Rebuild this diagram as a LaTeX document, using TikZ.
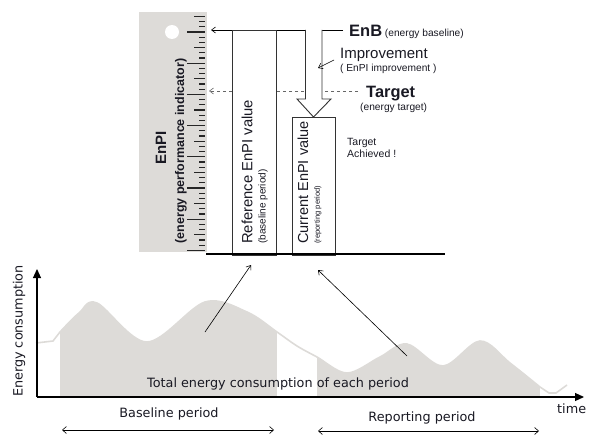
\documentclass[tikz,border=0pt]{standalone}
\usepackage{fontspec}
\setmainfont{Liberation Sans}
\newfontfamily\chartfont{DejaVu Sans}
\usetikzlibrary{positioning, arrows.meta}
\definecolor{panelgray}{RGB}{221,219,216}
\definecolor{inkcol}{RGB}{25,25,35}
\newcommand{\consumption}{(36,343) -- (53,341) -- (60,332) -- plot[smooth, tension=0.55] coordinates {(60,332) (79,313) (97,303) (147,342) (205,302) (247,312) (277,332) (297,346) (317,357) (347,373) (380,357) (407,344) (443,366) (480,341) (510,363) (540,387)} -- (549,393) -- (556,393) -- (567,385)}

\begin{document}
\begin{tikzpicture}[x=1pt, y=-1pt]
	\tikzstyle{box} = [draw=black!80, line width=0.9, fill=white, anchor=north west, inner sep=0]
	\tikzstyle{txt} = [inner sep=0, text=inkcol]
	\tikzstyle{vtxt} = [inner sep=0, text=inkcol, rotate=90, anchor=west]
	\tikzstyle{pointer} = [-{Straight Barb[length=4pt,width=6pt]}, line width=0.6]
	\tikzstyle{axis} = [-{Triangle[length=9pt,width=8pt]}, line width=1.1]
	\tikzstyle{period} = [{Straight Barb[length=4pt,width=7pt]}-{Straight Barb[length=4pt,width=7pt]}, line width=0.6]
	\tikzstyle{tick} = [line width=1.1, black!85]
	\tikzstyle{chart} = [txt, font=\chartfont\fontsize{12.8}{15}\selectfont]
	\useasboundingbox (0,0) rectangle (596,436);
	% ruler
	\fill [panelgray] (139,12) rectangle (207,252);
	\fill [white] (172,32) circle (7);
	\foreach \k in {-3,...,42}{
		\pgfmathtruncatemacro\r{mod(\k+60,6)}
		\ifnum\r=0 \def\len{18}\else\ifnum\r=3 \def\len{11}\else\def\len{6}\fi\fi
		\draw [tick] (205-\len,32+5.2*\k) -- (205,32+5.2*\k);
	}
	\node [vtxt, anchor=center, font=\bfseries\fontsize{15}{18}\selectfont] (enpi) at (161,148) {EnPI};
	\node [vtxt, anchor=center, font=\bfseries\fontsize{12.5}{15}\selectfont] (enpilong) at (181,151) {(energy performance indicator)};
	% levels
	\coordinate (tgtR) at (358,91);
	\coordinate (tgtL) at (209,91);
	\draw [pointer, dashed, black!60] (tgtR) -- (tgtL);
	\coordinate (enbR) at (343,30);
	\coordinate (enbL) at (211,30);
	\draw [pointer] (enbR) -- (enbL);
	\node [box, minimum width=44, minimum height=225] (refbox) at (232,30) {};
	\node [box, minimum width=43, minimum height=138] (curbox) at (292,117) {};
	\coordinate (floorL) at (206,254);
	\coordinate (floorR) at (445,254);
	\draw [line width=2] (floorL) -- (floorR);
	\node [vtxt, font=\fontsize{14.8}{17}\selectfont] (reftxt) at (247,244) {Reference EnPI value};
	\node [vtxt, font=\fontsize{10}{12}\selectfont] (refsub) at (263,244) {(baseline period)};
	\node [vtxt, font=\fontsize{14.5}{17}\selectfont] (curtxt) at (303,244) {Current EnPI value};
	\node [vtxt, font=\fontsize{7.6}{9}\selectfont] (cursub) at (318,244) {(reporting period)};
	% improvement arrow
	\draw [line width=0.9, black!80, fill=white] (305.5,30) -- (305.5,99) -- (297,99) -- (313.5,117) -- (331,99) -- (322,99) -- (322,30);
	\coordinate (impA) at (334,60);
	\coordinate (impB) at (318,68);
	\draw [pointer] (impA) -- (impB);
	\node [txt, anchor=base west] (enb) at (349,37) {{\bfseries\fontsize{16.5}{19}\selectfont EnB} {\fontsize{10.2}{12}\selectfont(energy baseline)}};
	\node [txt, anchor=base west, font=\fontsize{15}{18}\selectfont] (imp) at (340,58) {Improvement};
	\node [txt, anchor=base west, font=\fontsize{10.2}{12}\selectfont] (impsub) at (340,71) {( EnPI improvement )};
	\node [txt, anchor=base west, font=\bfseries\fontsize{16.4}{19}\selectfont] (tgt) at (366,97) {Target};
	\node [txt, anchor=base west, font=\fontsize{10.2}{12}\selectfont] (tgtsub) at (360,110) {(energy target)};
	\node [txt, anchor=north west, align=left, font=\fontsize{10.5}{12.5}\selectfont] (ach) at (347,138) {Target\\Achieved !};
	% consumption chart
	\draw [panelgray, line width=1.6] \consumption;
	\begin{scope}
		\clip \consumption -- (567,397) -- (36,397) -- cycle;
		\fill [panelgray] (60,250) rectangle (277,397);
		\fill [panelgray] (317,250) rectangle (540,397);
	\end{scope}
	\coordinate (orig) at (37,397);
	\coordinate (ytop) at (37,269);
	\coordinate (xend) at (584,397);
	\draw [axis] (orig) -- (ytop);
	\draw [axis] (orig) -- (xend);
	\node [chart, vtxt, anchor=center] (ylab) at (19,331) {Energy consumption};
	\node [chart, anchor=base] (total) at (278,387) {Total energy consumption of each period};
	\node [chart, anchor=base] (basep) at (169,417) {Baseline period};
	\node [chart, anchor=base] (repp) at (422,421) {Reporting period};
	\node [chart, anchor=base west] (time) at (557,413) {time};
	\coordinate (b1) at (62,430);
	\coordinate (b2) at (274,430);
	\coordinate (r1) at (318,431);
	\coordinate (r2) at (539,431);
	\draw [period] (b1) -- (b2);
	\draw [period] (r1) -- (r2);
	\coordinate (a1) at (205,332);
	\coordinate (a2) at (251,265);
	\coordinate (a3) at (407,356);
	\coordinate (a4) at (318,270);
	\draw [pointer] (a1) -- (a2);
	\draw [pointer] (a3) -- (a4);
\end{tikzpicture}
\end{document}
